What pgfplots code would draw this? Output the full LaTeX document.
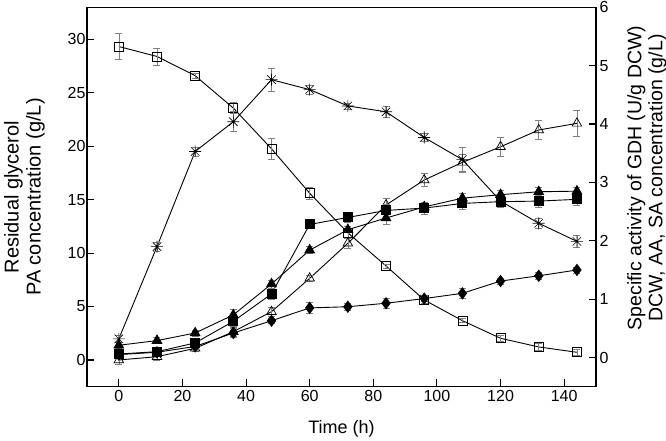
\documentclass[border=0pt]{standalone}
\usepackage{fontspec}
\setmainfont{Liberation Sans}
\usepackage{pgfplots}
\usepackage{pgfplotstable}
\pgfplotsset{compat=1.18}

\pgfdeclareplotmark{star8}{%
  \pgfpathmoveto{\pgfqpoint{0pt}{\pgfplotmarksize}}\pgfpathlineto{\pgfqpoint{0pt}{-\pgfplotmarksize}}%
  \pgfpathmoveto{\pgfqpoint{\pgfplotmarksize}{0pt}}\pgfpathlineto{\pgfqpoint{-\pgfplotmarksize}{0pt}}%
  \pgfpathmoveto{\pgfqpointpolar{45}{\pgfplotmarksize}}\pgfpathlineto{\pgfqpointpolar{225}{\pgfplotmarksize}}%
  \pgfpathmoveto{\pgfqpointpolar{135}{\pgfplotmarksize}}\pgfpathlineto{\pgfqpointpolar{315}{\pgfplotmarksize}}%
  \pgfusepathqstroke
  \pgfpathcircle{\pgfpointorigin}{0.9pt}\pgfusepathqfill}

% time, value, error
\pgfplotstableread{
t y e
0 29.33 1.2
12 28.4 0.8
24 26.6 0.25
36 23.57 0.5
48 19.76 1.0
60 15.6 0.6
72 11.9 0.4
84 8.8 0.2
96 5.62 0.3
108 3.68 0.2
120 2.03 0.3
132 1.22 0.3
144 0.72 0.3
}\glycerol
\pgfplotstableread{
t y e
0 0.0 0.4
12 0.31 0.3
24 1.09 0.3
36 2.65 0.4
48 4.52 0.4
60 7.64 0.3
72 10.92 0.5
84 14.5 0.65
96 16.84 0.6
108 18.49 0.8
120 19.95 0.9
132 21.52 0.9
144 22.14 1.2
}\pa
\pgfplotstableread{
t y e
0 0.32 0.06
12 1.90 0.08
24 3.53 0.08
36 4.04 0.17
48 4.76 0.2
60 4.59 0.08
72 4.31 0.05
84 4.21 0.1
96 3.77 0.07
108 3.39 0.22
120 2.68 0.05
132 2.30 0.09
144 1.99 0.1
}\gdh
\pgfplotstableread{
t y e
0 0.21 0.05
12 0.29 0.05
24 0.42 0.05
36 0.73 0.1
48 1.26 0.07
60 1.84 0.06
72 2.19 0.05
84 2.39 0.1
96 2.58 0.07
108 2.73 0.08
120 2.79 0.08
132 2.84 0.07
144 2.85 0.07
}\ftri
\pgfplotstableread{
t y e
0 0.06 0.04
12 0.10 0.05
24 0.25 0.05
36 0.62 0.08
48 1.09 0.1
60 2.28 0.06
72 2.40 0.08
84 2.52 0.1
96 2.56 0.1
108 2.64 0.1
120 2.67 0.1
132 2.68 0.1
144 2.71 0.1
}\fsq
\pgfplotstableread{
t y e
0 0.05 0.04
12 0.09 0.05
24 0.19 0.05
36 0.42 0.08
48 0.63 0.05
60 0.85 0.1
72 0.87 0.06
84 0.93 0.08
96 1.01 0.05
108 1.10 0.08
120 1.31 0.05
132 1.40 0.06
144 1.50 0.05
}\fdia

\begin{document}
\begin{tikzpicture}
\pgfplotsset{
  every axis/.append style={
    scale only axis, width=509pt, height=379.4pt,
    xmin=-10, xmax=150,
    tick align=inside, major tick length=7.5pt,
    tick label style={font=\fontsize{16}{18}\selectfont},
    label style={font=\fontsize{20}{22}\selectfont},
    /pgf/number format/assume math mode=true,
    axis line style={line width=1.1pt},
    every tick/.style={black, line width=1.1pt},
  },
  ser/.style={black, line width=0.9pt,
    error bars/y dir=both, error bars/y explicit,
    error bars/error bar style={gray, line width=0.6pt},
    error bars/error mark options={rotate=90, gray, mark size=3.5pt, line width=0.6pt}},
}
\useasboundingbox (-87pt,-53.3pt) rectangle (579pt,386.7pt);
\begin{axis}[
  at={(0,0)}, anchor=south west,
  ymin=-2.5, ymax=33,
  xtick={0,20,...,140}, ytick={0,5,...,30},
  xtick pos=left, ytick pos=left,
  yticklabel style={xshift=2pt},
  xlabel={Time (h)},
  ylabel={Residual glycerol\\PA concentration (g/L)},
  ylabel style={align=center, at={(axis description cs:-0.123,0.5)}, anchor=center},
  xlabel style={font=\fontsize{18}{20}\selectfont, at={(axis description cs:0.5,-0.112)}, anchor=center},
]
\addplot[ser, mark=square, mark size=4.5pt, mark options={fill=white, solid, line width=0.7pt}]
  table[x=t, y=y, y error=e] {\glycerol};
\addplot[ser, mark=triangle, mark size=5.5pt, mark options={fill=white, solid, line width=0.7pt}]
  table[x=t, y=y, y error=e] {\pa};
\end{axis}
\begin{axis}[
  at={(0,0)}, anchor=south west,
  ymin=-0.5, ymax=6,
  ytick={0,1,...,6},
  axis y line*=right, axis x line=none,
  ylabel={Specific activity of GDH (U/g DCW)\\DCW, AA, SA concentration (g/L)},
  ylabel style={align=center, font=\fontsize{19.5}{21}\selectfont, at={(axis description cs:1.1,0.55)}, anchor=center},
]
\addplot[ser, mark=star8, mark size=6pt, mark options={solid, line width=0.6pt}]
  table[x=t, y=y, y error=e] {\gdh};
\addplot[ser, mark=triangle*, mark size=5.5pt, mark options={fill=black, solid}]
  table[x=t, y=y, y error=e] {\ftri};
\addplot[ser, mark=square*, mark size=4.5pt, mark options={fill=black, solid}]
  table[x=t, y=y, y error=e] {\fsq};
\addplot[ser, mark=diamond*, mark size=5.5pt, mark options={fill=black, solid}]
  table[x=t, y=y, y error=e] {\fdia};
\end{axis}
\end{tikzpicture}
\end{document}
